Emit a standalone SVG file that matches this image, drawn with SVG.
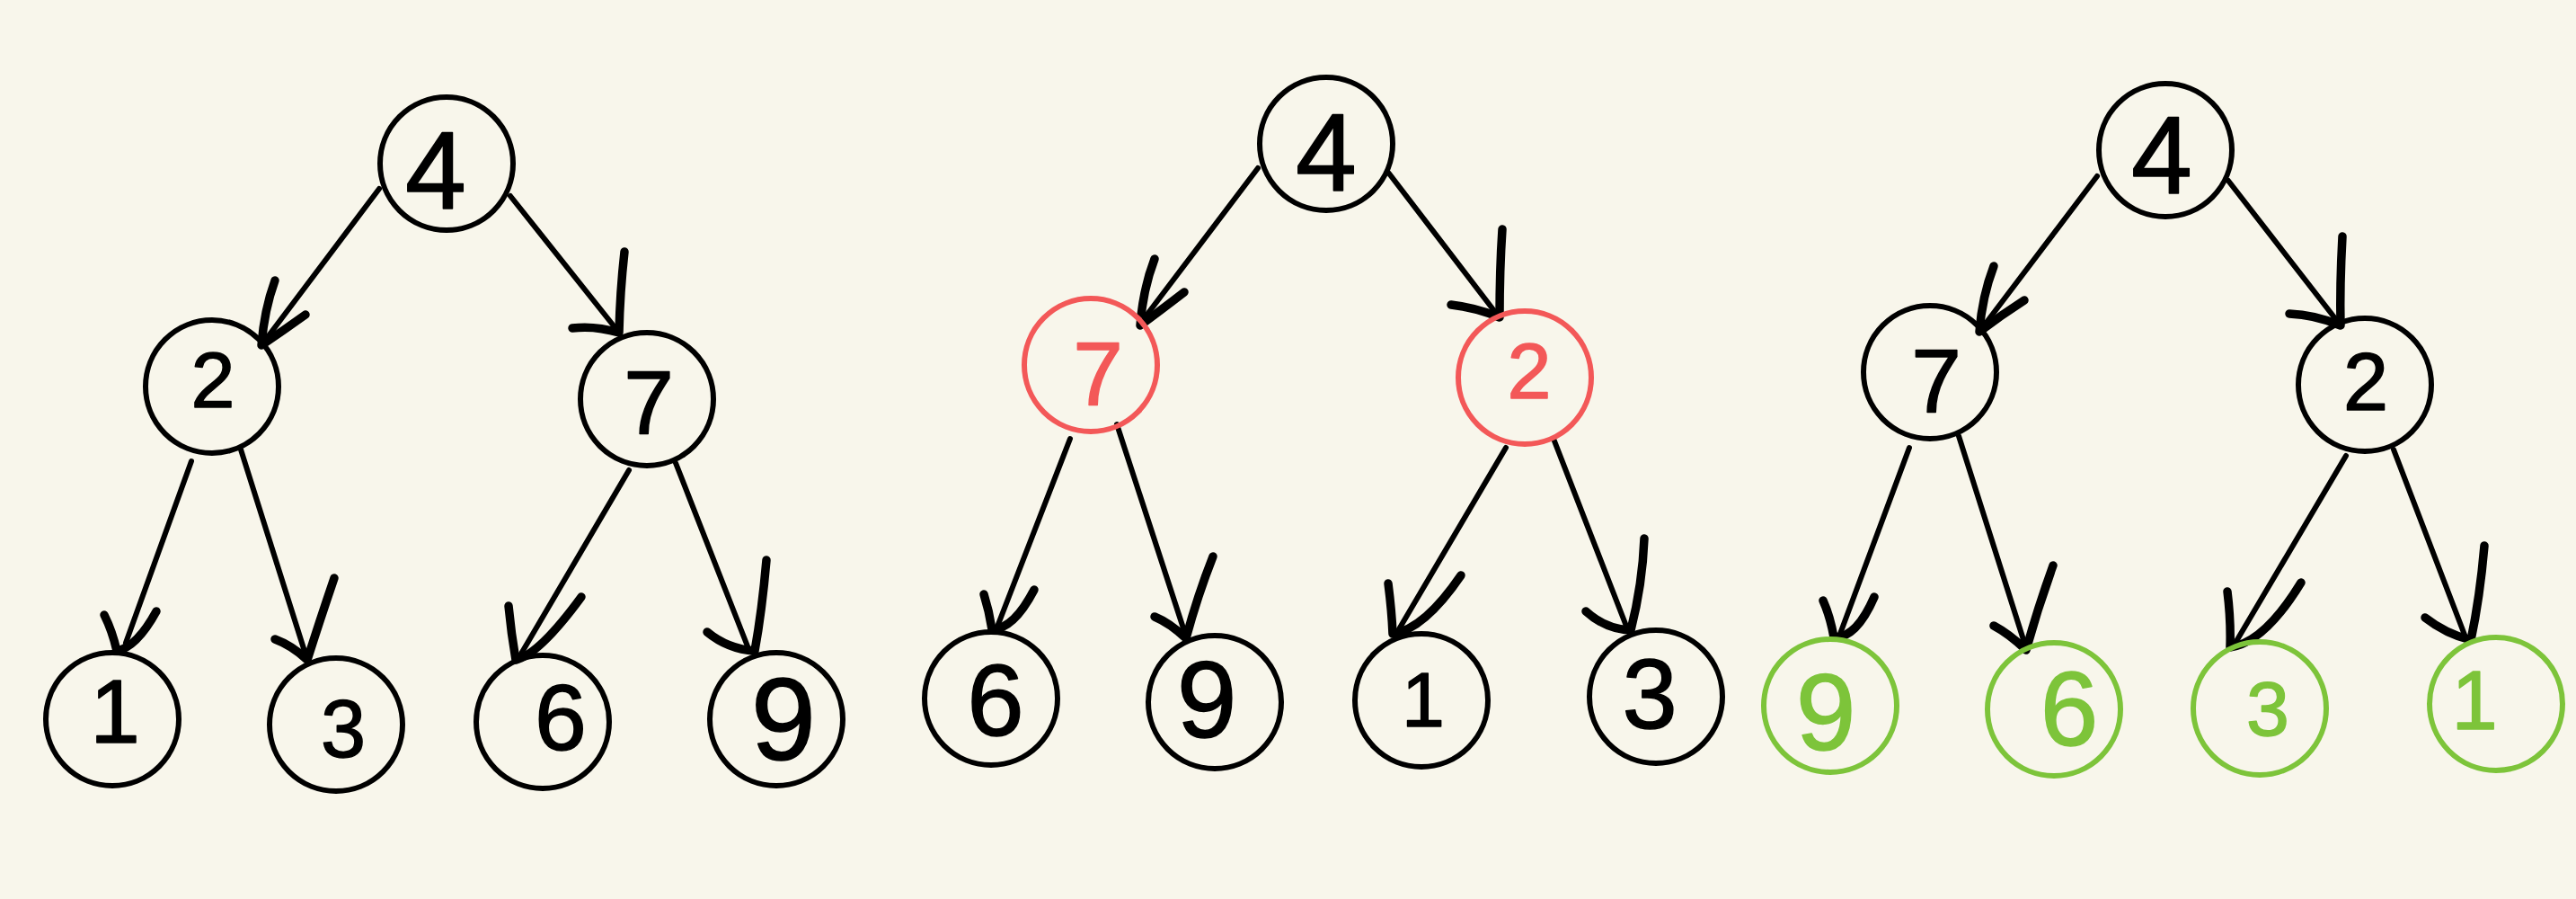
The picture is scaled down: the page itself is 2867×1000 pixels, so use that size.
<svg xmlns="http://www.w3.org/2000/svg" width="2867" height="1000" viewBox="0 0 2867 1000">
  <style>
    .bg { fill: #F8F6EB; }
    .node circle { fill: none; stroke: #000; stroke-width: 6; }
    .node text { font-family: "Liberation Sans", "DejaVu Sans", sans-serif; text-anchor: middle; fill: #000; stroke: #000; stroke-width: 1.5; stroke-linejoin: round; }
    .node.red circle { stroke: #F35858; }
    .node.red text { fill: #F35858; stroke: #F35858; }
    .node.green circle { stroke: #7DC43A; }
    .node.green text { fill: #7DC43A; stroke: #7DC43A; }
    .edge line { stroke: #000; stroke-width: 6; stroke-linecap: round; }
    .edge path { fill: none; stroke: #000; stroke-width: 9.5; stroke-linecap: round; stroke-linejoin: round; }
  </style>

  <rect class="bg" x="0" y="0" width="2867" height="1000"/>

  <!-- connectors: straight shaft plus hand-drawn two-stroke arrowhead -->
  <g id="connectors">
    <!-- tree A -->
    <g class="edge" id="a-4-2"><line x1="422" y1="210" x2="291" y2="384"/><path d="M306,312 Q294,345 291,384 Q315,368 340,350"/></g>
    <g class="edge" id="a-4-7"><line x1="568" y1="218" x2="689" y2="370"/><path d="M695,280 Q690,325 689,370 Q662,362 637,365"/></g>
    <g class="edge" id="a-2-1"><line x1="213" y1="513" x2="140" y2="715"/><path d="M116,684 Q125,702 130,724 Q152,720 174,680"/></g>
    <g class="edge" id="a-2-3"><line x1="268" y1="500" x2="342" y2="734"/><path d="M372,643 Q356,690 342,734 Q325,718 306,711"/></g>
    <g class="edge" id="a-7-6"><line x1="700" y1="523" x2="576" y2="734"/><path d="M566,674 Q569,705 574,734 Q600,728 647,664"/></g>
    <g class="edge" id="a-7-9"><line x1="752" y1="515" x2="834" y2="724"/><path d="M853,623 Q848,680 840,724 Q810,722 787,703"/></g>
    <!-- tree B -->
    <g class="edge" id="b-4-7"><line x1="1400" y1="187" x2="1269" y2="360"/><path d="M1285,288 Q1272,322 1269,362 Q1292,345 1318,325"/></g>
    <g class="edge" id="b-4-2"><line x1="1546" y1="193" x2="1667" y2="351"/><path d="M1672,255 Q1669,300 1669,353 Q1642,342 1615,339"/></g>
    <g class="edge" id="b-7-6"><line x1="1191" y1="488" x2="1110" y2="697"/><path d="M1095,661 Q1101,680 1104,700 Q1128,700 1151,656"/></g>
    <g class="edge" id="b-7-4"><line x1="1243" y1="472" x2="1320" y2="708"/><path d="M1350,619 Q1333,662 1320,710 Q1302,693 1285,686"/></g>
    <g class="edge" id="b-2-1"><line x1="1676" y1="498" x2="1554" y2="705"/><path d="M1545,649 Q1549,680 1550,705 Q1585,700 1626,640"/></g>
    <g class="edge" id="b-2-3"><line x1="1729" y1="488" x2="1811" y2="699"/><path d="M1830,599 Q1828,650 1815,701 Q1787,700 1765,680"/></g>
    <!-- tree C -->
    <g class="edge" id="c-4-7"><line x1="2334" y1="196" x2="2203" y2="369"/><path d="M2219,296 Q2206,330 2203,369 Q2228,350 2253,334"/></g>
    <g class="edge" id="c-4-2"><line x1="2480" y1="201" x2="2605" y2="362"/><path d="M2607,263 Q2604,318 2605,362 Q2576,350 2548,349"/></g>
    <g class="edge" id="c-7-9"><line x1="2125" y1="498" x2="2048" y2="705"/><path d="M2029,668 Q2037,686 2041,709 Q2066,710 2086,664"/></g>
    <g class="edge" id="c-7-6"><line x1="2180" y1="485" x2="2255" y2="721"/><path d="M2285,629 Q2268,676 2255,723 Q2236,705 2219,696"/></g>
    <g class="edge" id="c-2-3"><line x1="2611" y1="507" x2="2485" y2="720"/><path d="M2479,658 Q2483,690 2482,720 Q2520,715 2561,648"/></g>
    <g class="edge" id="c-2-1"><line x1="2664" y1="500" x2="2746" y2="714"/><path d="M2765,607 Q2760,665 2750,712 Q2722,705 2699,687"/></g>
  </g>

  <!-- tree A: original tree -->
  <g class="node" id="a4"><circle cx="497" cy="182" r="74"/><text x="485" y="232" font-size="122">4</text></g>
  <g class="node" id="a2"><circle cx="236" cy="430" r="74"/><text x="237" y="453" font-size="88">2</text></g>
  <g class="node" id="a7"><circle cx="720" cy="444" r="74"/><text x="722" y="483" font-size="100">7</text></g>
  <g class="node" id="a1"><circle cx="125" cy="800" r="74"/><text x="128" y="826" font-size="100">1</text></g>
  <g class="node" id="a3"><circle cx="374" cy="806" r="74"/><text x="382" y="842" font-size="90">3</text></g>
  <g class="node" id="a6"><circle cx="604" cy="803" r="74"/><text x="624" y="834" font-size="104">6</text></g>
  <g class="node" id="a9"><circle cx="864" cy="800" r="74"/><text x="872" y="845" font-size="130">9</text></g>

  <!-- tree B: children of the root swapped -->
  <g class="node" id="b4"><circle cx="1476" cy="160" r="74"/><text x="1476" y="212" font-size="122">4</text></g>
  <g class="node red" id="b7"><circle cx="1214" cy="406" r="74"/><text x="1222" y="451" font-size="100">7</text></g>
  <g class="node red" id="b2"><circle cx="1697" cy="420" r="74"/><text x="1702" y="443" font-size="88">2</text></g>
  <g class="node" id="b6"><circle cx="1103" cy="777" r="74"/><text x="1108" y="818" font-size="114">6</text></g>
  <g class="node" id="b9"><circle cx="1352" cy="781" r="74"/><text x="1343" y="820" font-size="120">9</text></g>
  <g class="node" id="b1"><circle cx="1582" cy="779" r="74"/><text x="1584" y="808" font-size="86">1</text></g>
  <g class="node" id="b3"><circle cx="1843" cy="775" r="74"/><text x="1836" y="810" font-size="110">3</text></g>

  <!-- tree C: fully inverted -->
  <g class="node" id="c4"><circle cx="2410" cy="167" r="74"/><text x="2406" y="215" font-size="122">4</text></g>
  <g class="node" id="c7"><circle cx="2148" cy="414" r="74"/><text x="2155" y="459" font-size="100">7</text></g>
  <g class="node" id="c2"><circle cx="2632" cy="428" r="74"/><text x="2633" y="456" font-size="90">2</text></g>
  <g class="node green" id="c9"><circle cx="2037" cy="785" r="74"/><text x="2032" y="834" font-size="120">9</text></g>
  <g class="node green" id="c6"><circle cx="2286" cy="789" r="74"/><text x="2303" y="829" font-size="116">6</text></g>
  <g class="node green" id="c3"><circle cx="2515" cy="788" r="74"/><text x="2524" y="818" font-size="86">3</text></g>
  <g class="node green" id="c1"><circle cx="2778" cy="783" r="74"/><text x="2754" y="811" font-size="92">1</text></g>
</svg>
